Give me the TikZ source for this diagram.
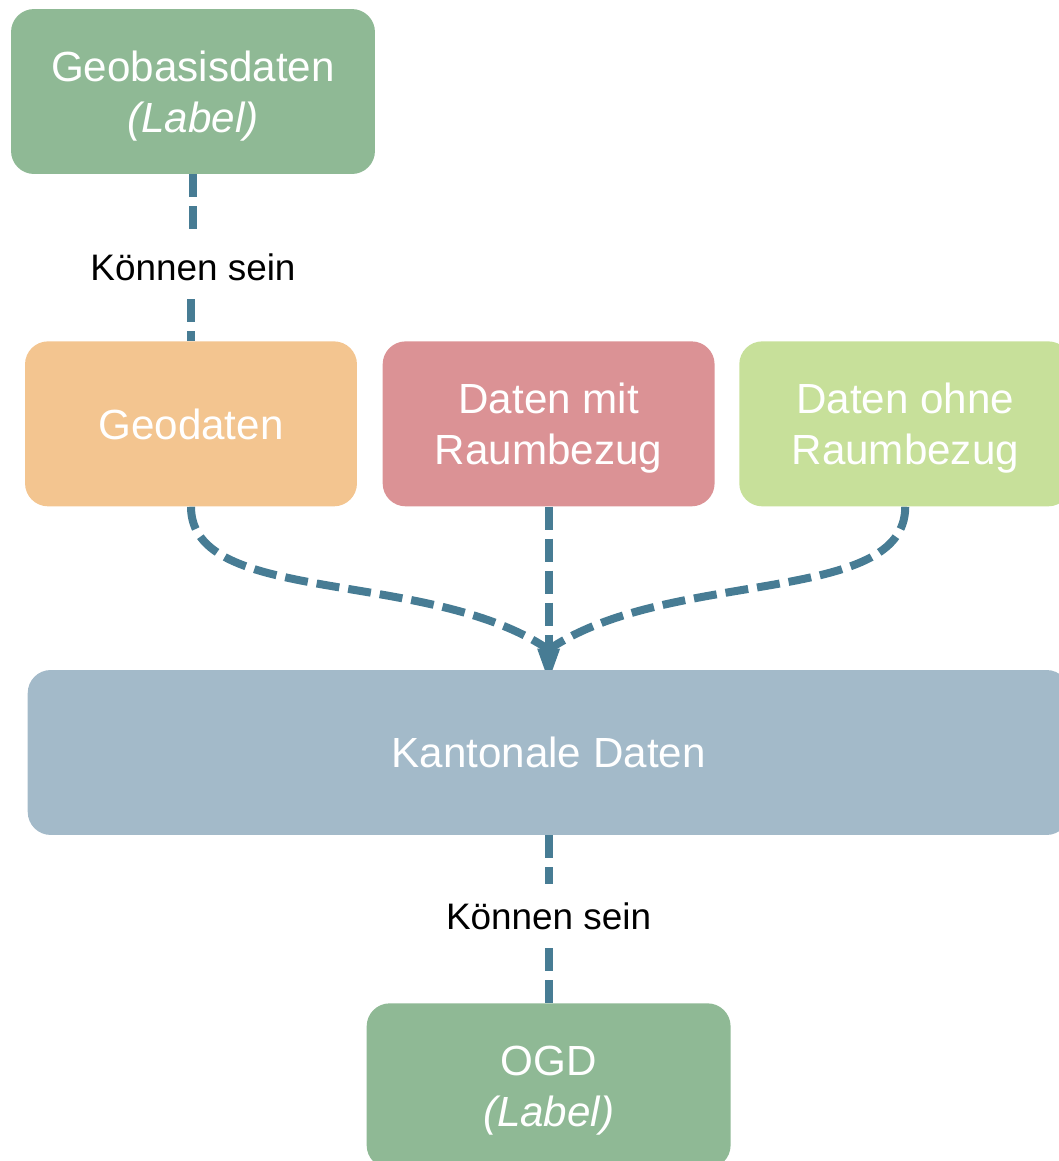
\documentclass[tikz,border=0pt]{standalone}
\usepackage{fontspec}
\setmainfont{Liberation Sans}
\usetikzlibrary{positioning, arrows.meta}
\definecolor{labelgreen}{HTML}{8FB995}
\definecolor{geoorange}{HTML}{F3C590}
\definecolor{raumred}{HTML}{DB9295}
\definecolor{ohnegreen}{HTML}{C7E09A}
\definecolor{kantonblue}{HTML}{A3BAC9}
\definecolor{linkblue}{HTML}{477C94}
\newcommand{\boxheight}{3.3cm}
\newcommand{\linkarrow}{-{Triangle[length=0.64cm,width=0.46cm,line width=0pt]}}
\pgfdeclarelayer{back}
\pgfsetlayers{back,main}
\tikzset{
  box/.style={rounded corners=0.46cm, minimum height=\boxheight, inner sep=0pt,
    text=white, align=center, text depth=0pt, font=\fontsize{24}{29}\selectfont},
  link/.style={draw=linkblue, line width=0.16cm, dash pattern=on 0.46cm off 0.18cm},
  lbl/.style={fill=white, minimum height=1.26cm, inner sep=0pt,
    font=\fontsize{21}{25}\selectfont}
}

\begin{document}
\begin{tikzpicture}[x=0.02cm, y=-0.02cm]
        \useasboundingbox (0,0) rectangle (1059,1161);
        \node[box, fill=labelgreen, minimum width=7.28cm] (geobasis) at (193,91.5) {Geobasisdaten\\\textit{(Label)}};
        \node[lbl, below=1.22cm of geobasis] (kann1) {Können sein};
        \node[box, fill=geoorange, minimum width=6.64cm, below=0.84cm of kann1, xshift=-0.04cm] (geodaten) {Geodaten};
        \node[box, fill=raumred, minimum width=6.64cm, right=0.5cm of geodaten] (mitraum) {Daten mit\\Raumbezug};
        \node[box, fill=ohnegreen, minimum width=6.64cm, right=0.48cm of mitraum] (ohneraum) {Daten ohne\\Raumbezug};
        \node[box, fill=kantonblue, minimum width=20.84cm, below=3.26cm of mitraum] (kanton) {Kantonale Daten};
        \node[lbl, below=0.98cm of kanton] (kann2) {Können sein};
        \node[box, fill=labelgreen, minimum width=7.28cm, below=1.1cm of kann2] (ogd) {OGD\\\textit{(Label)}};
        \begin{pgfonlayer}{back}
        \draw[link] (geobasis) -- (kann1);
        \draw[link] (geodaten |- kann1.south) -- (geodaten);
        \draw[link, \linkarrow, shorten >=-0.22cm] (mitraum) -- (kanton);
        \draw[link] (geodaten.south)
        .. controls +(0,100) and +(-120,-82) .. ([yshift=0.4cm]kanton.north);
        \draw[link] (ohneraum.south)
        .. controls +(0,100) and +(120,-82) .. ([yshift=0.4cm]kanton.north);
        \draw[link] (kanton) -- (kann2);
        \draw[link] (kann2) -- (ogd);
        \end{pgfonlayer}
    \end{tikzpicture}
\end{document}
